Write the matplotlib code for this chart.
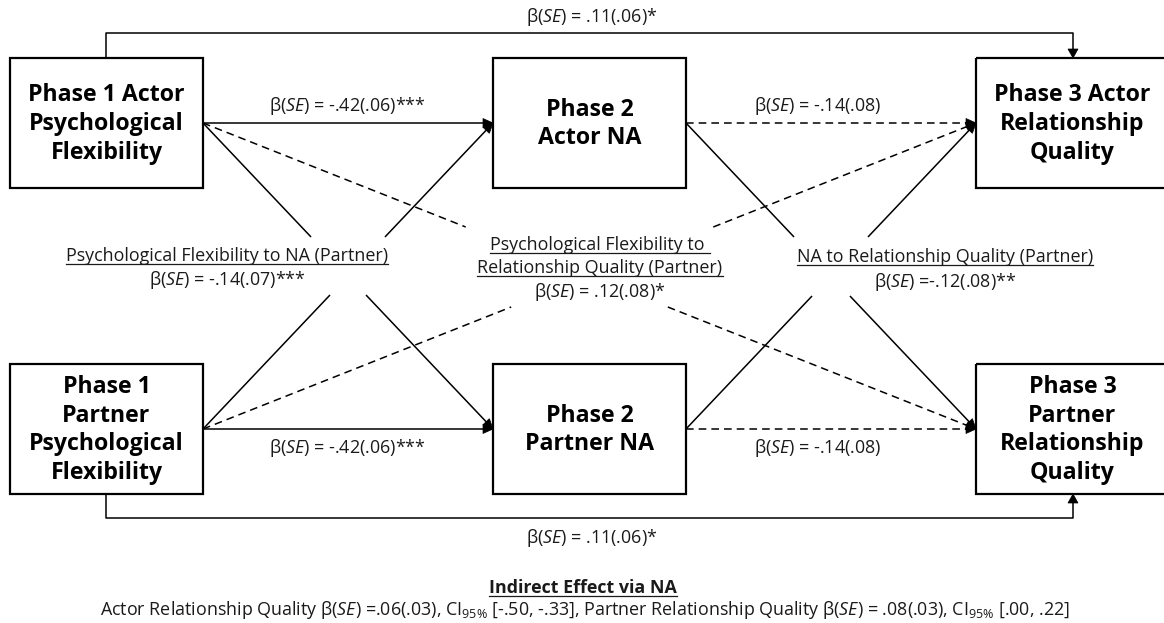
import matplotlib
matplotlib.use("Agg")
import numpy as np
import matplotlib.pyplot as plt
from matplotlib.patches import Rectangle, Polygon

plt.rcParams['font.family'] = ['Open Sans', 'DejaVu Sans']
plt.rcParams['mathtext.fontset'] = 'custom'
plt.rcParams['mathtext.rm'] = 'Open Sans'
plt.rcParams['mathtext.it'] = 'Open Sans:italic'
plt.rcParams['mathtext.bf'] = 'Open Sans:bold'

# ---- data: node labels and path coefficients ----
actor_boxes = ["Phase 1 Actor\nPsychological\nFlexibility",
               "Phase 2\nActor NA",
               "Phase 3 Actor\nRelationship\nQuality"]
partner_boxes = ["Phase 1\nPartner\nPsychological\nFlexibility",
                 "Phase 2\nPartner NA",
                 "Phase 3\nPartner\nRelationship\nQuality"]

B = r"β($\mathit{SE}$)"
coef_pf_na = ["= -.42(.06)***", "= -.42(.06)***"]     # actor, partner
coef_na_rq = ["= -.14(.08)", "= -.14(.08)"]
coef_direct = ["= .11(.06)*", "= .11(.06)*"]
cross_titles = ["Psychological Flexibility to NA (Partner)",
                "Psychological Flexibility to \nRelationship Quality (Partner)",
                "NA to Relationship Quality (Partner)"]
cross_coefs = ["= -.14(.07)***", "= .12(.08)*", "=-.12(.08)**"]
indirect_title = "Indirect Effect via NA"
indirect_text = (r"Actor Relationship Quality β($\mathit{SE}$) =.06(.03), CI$_{\mathrm{95\%}}$ [-.50, -.33], "
                 r"Partner Relationship Quality β($\mathit{SE}$) = .08(.03), CI$_{\mathrm{95\%}}$ [.00, .22]")

# ---- layout (pixel coordinates) ----
W, H = 1164, 623
fig = plt.figure(figsize=(W / 100, H / 100), dpi=100)
ax = fig.add_axes([0, 0, 1, 1])
ax.set_xlim(0, W)
ax.set_ylim(H, 0)
ax.axis('off')

col_x = [10, 493, 976]
box_w, box_h = 193, 130
row_y = [58, 364]
BOX_FS = 16.7
LAB_FS = 12.9
TXT = '#1a1a1a'

for r, labels in enumerate([actor_boxes, partner_boxes]):
    for c, lab in enumerate(labels):
        ax.add_patch(Rectangle((col_x[c], row_y[r]), box_w, box_h, fill=False,
                               lw=1.6, ec='k', zorder=3))
        ax.text(col_x[c] + box_w / 2, row_y[r] + box_h / 2 + 1, lab, ha='center', va='center',
                fontsize=BOX_FS, fontweight='bold', linespacing=1.27, zorder=4)


def head(p0, p1, L=10, w=4.5):
    p0, p1 = np.array(p0, float), np.array(p1, float)
    d = (p1 - p0) / np.hypot(*(p1 - p0))
    n = np.array([-d[1], d[0]])
    base = p1 - L * d
    ax.add_patch(Polygon([p1, base + w * n, base - w * n], closed=True, fc='k', ec='k',
                         lw=0.5, zorder=5))


def path(p0, p1, dashed=False, gap=None, arrow=True):
    (x0, y0), (x1, y1) = p0, p1
    kw = dict(color='k', lw=1.1, zorder=2, solid_capstyle='butt')
    if dashed:
        kw.update(dashes=(5, 3.3))
    pts = [p0]
    if gap is not None:
        ts = sorted((g - y0) / (y1 - y0) for g in gap)
        pts += [(x0 + t * (x1 - x0), y0 + t * (y1 - y0)) for t in ts]
    pts.append(p1)
    for a, b in zip(pts[0::2], pts[1::2]):
        ax.plot([a[0], b[0]], [a[1], b[1]], **kw)
    if arrow:
        head(p0, p1)


ya = row_y[0] + box_h / 2
yp = row_y[1] + box_h / 2
R = [x + box_w for x in col_x]
Lx = col_x

# horizontal paths
path((R[0], ya), (Lx[1], ya))
path((R[0], yp), (Lx[1], yp))
path((R[1], ya), (Lx[2], ya), dashed=True)
path((R[1], yp), (Lx[2], yp), dashed=True)
# crossing solid paths
solid_gap = (237, 295)
path((R[0], ya), (Lx[1], yp), gap=solid_gap)
path((R[0], yp), (Lx[1], ya), gap=solid_gap)
path((R[1], ya), (Lx[2], yp), gap=(237, 296))
path((R[1], yp), (Lx[2], ya), gap=(237, 296))
# crossing dashed paths
path((R[0], ya), (Lx[2], yp), dashed=True, gap=(227, 307))
path((R[0], yp), (Lx[2], ya), dashed=True, gap=(227, 307))

# direct effect elbows
xs, xe = 106, 1073
ax.plot([xs, xs, xe, xe], [row_y[0], 33, 33, row_y[0] - 2], color='k', lw=1.1, zorder=2)
head((xe, 33), (xe, row_y[0]), L=9, w=5)
yb = row_y[1] + box_h
ax.plot([xs, xs, xe, xe], [yb, 518, 518, yb + 2], color='k', lw=1.1, zorder=2)
head((xe, 518), (xe, yb), L=9, w=5)

# coefficient labels
ax.text(592, 17, B + " " + coef_direct[0], ha='center', va='center', fontsize=LAB_FS, color=TXT)
ax.text(592, 538, B + " " + coef_direct[1], ha='center', va='center', fontsize=LAB_FS, color=TXT)
ax.text(347, 106, B + " " + coef_pf_na[0], ha='center', va='center', fontsize=LAB_FS, color=TXT)
ax.text(347, 448, B + " " + coef_pf_na[1], ha='center', va='center', fontsize=LAB_FS, color=TXT)
ax.text(818, 106, B + " " + coef_na_rq[0], ha='center', va='center', fontsize=LAB_FS, color=TXT)
ax.text(818, 448, B + " " + coef_na_rq[1], ha='center', va='center', fontsize=LAB_FS, color=TXT)

underlined = []
t = ax.text(227, 256, cross_titles[0], ha='center', va='center', fontsize=LAB_FS, color=TXT)
underlined.append(t)
ax.text(227, 280, B + " " + cross_coefs[0], ha='center', va='center', fontsize=LAB_FS, color=TXT)

l1, l2 = cross_titles[1].split("\n")
underlined.append(ax.text(600, 245, l1, ha='center', va='center', fontsize=LAB_FS, color=TXT))
underlined.append(ax.text(600, 268, l2, ha='center', va='center', fontsize=LAB_FS, color=TXT))
ax.text(600, 292, B + " " + cross_coefs[1], ha='center', va='center', fontsize=LAB_FS, color=TXT)

underlined.append(ax.text(945, 257, cross_titles[2], ha='center', va='center', fontsize=LAB_FS, color=TXT))
ax.text(945, 282, B + " " + cross_coefs[2], ha='center', va='center', fontsize=LAB_FS, color=TXT)

underlined.append(ax.text(583, 588, indirect_title, ha='center', va='center', fontsize=LAB_FS,
                          fontweight='bold', color=TXT))
ax.text(585, 610, indirect_text, ha='center', va='center', fontsize=LAB_FS, color=TXT)

# underlines drawn under measured text extents
fig.canvas.draw()
inv = ax.transData.inverted()
for t in underlined:
    bb = t.get_window_extent()
    (x0, y0), (x1, y1) = inv.transform([[bb.x0, bb.y0], [bb.x1, bb.y1]])
    ax.plot([x0, x1], [y0 - 1.5, y0 - 1.5], color=TXT, lw=0.9)

fig.savefig("out.png", dpi=100)
